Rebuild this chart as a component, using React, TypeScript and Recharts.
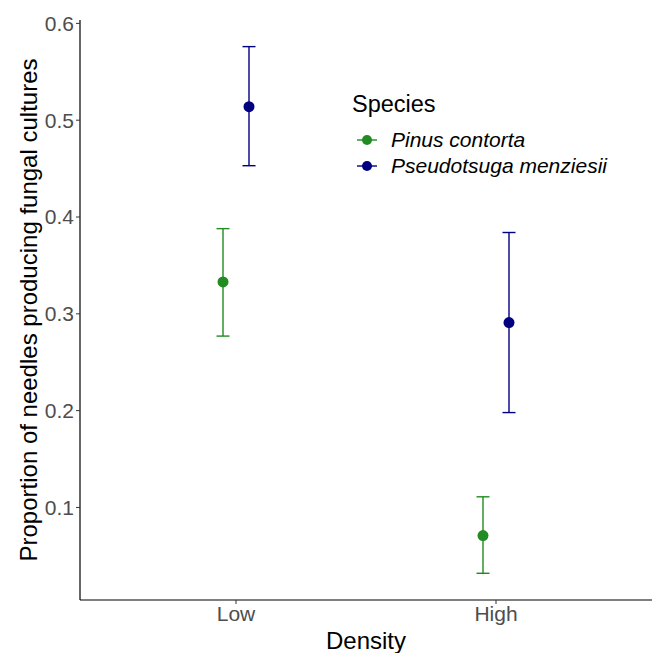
import { ScatterChart, Scatter, ErrorBar, XAxis, YAxis, Legend } from "recharts";

const densities = ["Low", "High"];
const speciesNames = ["Pinus contorta", "Pseudotsuga menziesii"];
const speciesColors = ["#228B22", "#000080"];

const pinusMean = [0.333, 0.071];
const pinusLower = [0.277, 0.032];
const pinusUpper = [0.388, 0.111];

const pseudoMean = [0.514, 0.291];
const pseudoLower = [0.453, 0.198];
const pseudoUpper = [0.576, 0.384];

const yTicks = [0.1, 0.2, 0.3, 0.4, 0.5, 0.6];

// position_dodge, in x-axis units
const dodge = 0.05;

function buildSeries(mean: number[], lower: number[], upper: number[], shift: number) {
  return densities.map((d, i) => ({
    density: d,
    x: i + 1 + shift,
    y: mean[i],
    err: [mean[i] - lower[i], upper[i] - mean[i]],
  }));
}

const pinusData = buildSeries(pinusMean, pinusLower, pinusUpper, -dodge);
const pseudoData = buildSeries(pseudoMean, pseudoLower, pseudoUpper, dodge);

const font = "'Liberation Sans', Arial, sans-serif";

function Dot(color: string) {
  return (props: any) => <circle cx={props.cx} cy={props.cy} r={5.5} fill={color} />;
}

function YTitle(props: any) {
  const vb = props.viewBox;
  const cx = 28;
  const cy = vb.y + vb.height / 2;
  return (
    <text
      x={cx}
      y={cy}
      transform={`rotate(-90 ${cx} ${cy})`}
      textAnchor="middle"
      dominantBaseline="central"
      fill="#000"
      fontSize={24}
      fontFamily={font}
    >
      Proportion of needles producing fungal cultures
    </text>
  );
}

function SpeciesLegend() {
  return (
    <div style={{ fontFamily: font, color: "#000" }}>
      <div style={{ fontSize: 23.5, lineHeight: "26px", marginBottom: 10 }}>Species</div>
      {speciesNames.map((name, i) => (
        <div key={name} style={{ display: "flex", alignItems: "center", height: 26 }}>
          <svg width={26} height={20} style={{ marginLeft: 3, marginRight: 10 }}>
            <line x1={2} x2={22} y1={10} y2={10} stroke={speciesColors[i]} strokeWidth={1.4} />
            <circle cx={12} cy={10} r={5} fill={speciesColors[i]} />
          </svg>
          <span style={{ fontSize: 21, fontStyle: "italic" }}>{name}</span>
        </div>
      ))}
    </div>
  );
}

export default function App() {
  return (
    <div style={{ position: "absolute", left: 0, top: 0, width: 657, height: 653, background: "#fff" }}>
      <ScatterChart width={657} height={653} margin={{ top: 20, right: 5, bottom: 0, left: 0 }}>
        <XAxis
          type="number"
          dataKey="x"
          domain={[0.4, 2.6]}
          ticks={[1, 2]}
          tickFormatter={(v: number) => densities[v - 1]}
          height={53}
          axisLine={{ stroke: "#000", strokeWidth: 1.2 }}
          tickLine={{ stroke: "#333" }}
          tickSize={4}
          tickMargin={2}
          tick={{ fill: "#4d4d4d", fontSize: 21, fontFamily: font }}
          label={{ value: "Density", position: "insideBottom", offset: 4, fill: "#000", fontSize: 24, fontFamily: font }}
        />
        <YAxis
          type="number"
          dataKey="y"
          domain={[0.0044, 0.6035]}
          ticks={yTicks}
          tickFormatter={(v: number) => v.toFixed(1)}
          width={80}
          axisLine={{ stroke: "#000", strokeWidth: 1.2 }}
          tickLine={{ stroke: "#333" }}
          tickSize={4}
          tickMargin={2}
          tick={{ fill: "#4d4d4d", fontSize: 21, fontFamily: font }}
          label={<YTitle />}
        />
        <Legend
          layout="vertical"
          align="center"
          verticalAlign="middle"
          content={() => <SpeciesLegend />}
          wrapperStyle={{ left: 352, top: 91, width: 300 }}
        />
        <Scatter data={pinusData} fill={speciesColors[0]} shape={Dot(speciesColors[0])} isAnimationActive={false}>
          <ErrorBar dataKey="err" direction="y" width={6.5} stroke={speciesColors[0]} strokeWidth={1.4} />
        </Scatter>
        <Scatter data={pseudoData} fill={speciesColors[1]} shape={Dot(speciesColors[1])} isAnimationActive={false}>
          <ErrorBar dataKey="err" direction="y" width={6.5} stroke={speciesColors[1]} strokeWidth={1.4} />
        </Scatter>
      </ScatterChart>
    </div>
  );
}
